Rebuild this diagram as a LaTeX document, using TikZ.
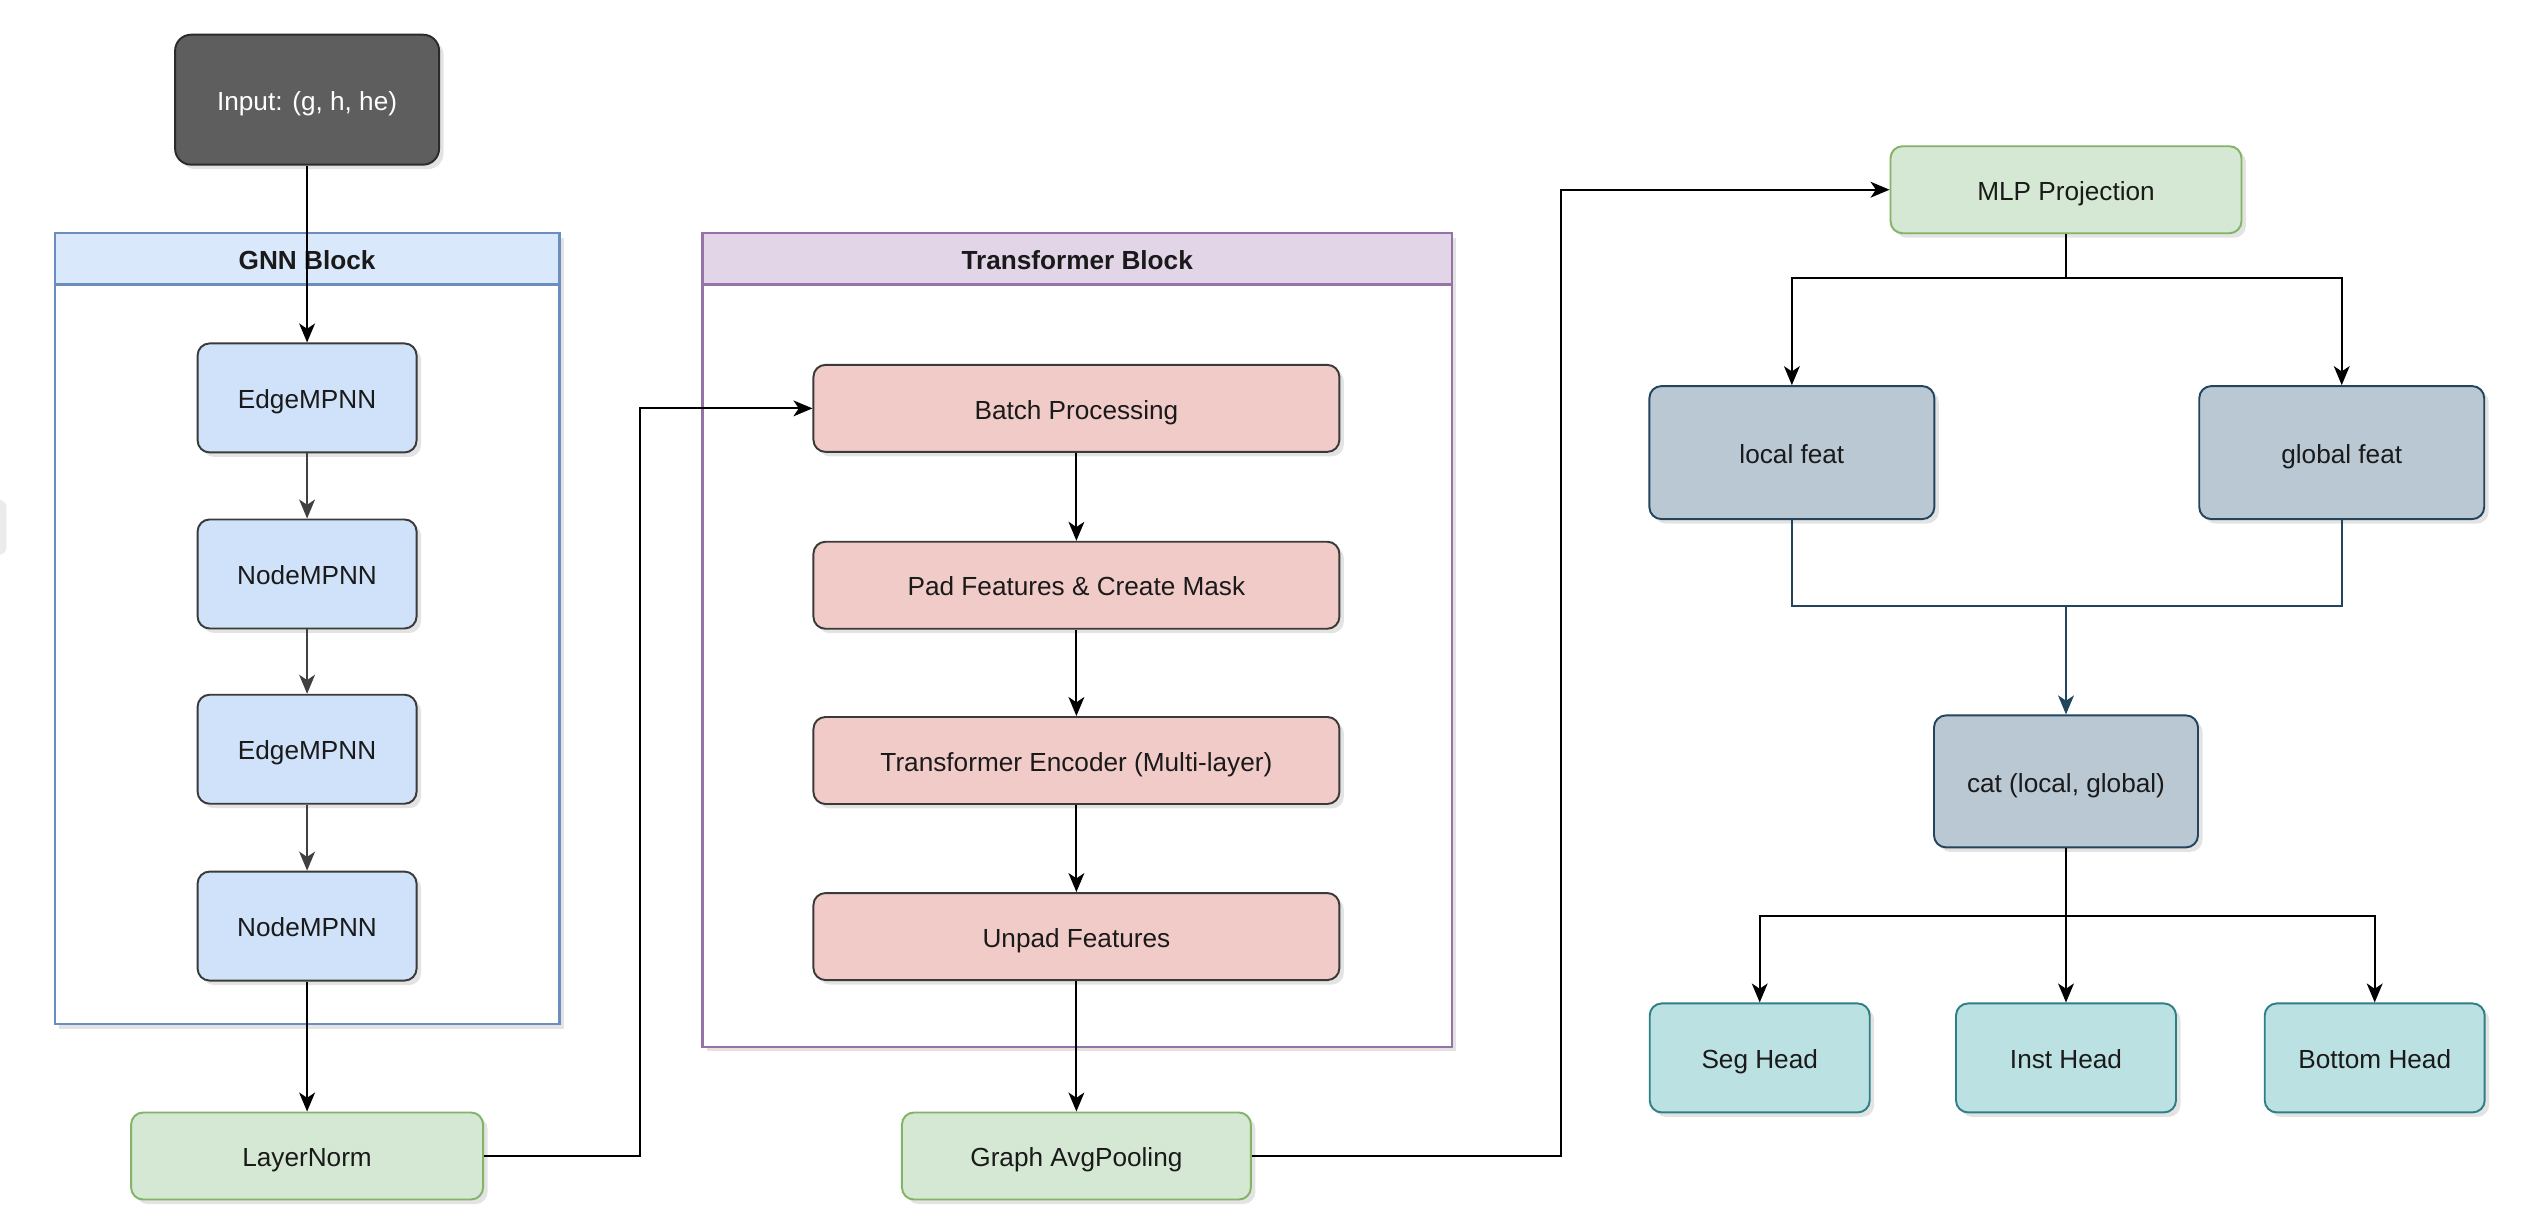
\documentclass[tikz,border=0pt]{standalone}
\usepackage{fontspec}
\setmainfont{Liberation Sans}
\usetikzlibrary{arrows.meta,shadows}

\definecolor{inputfill}{HTML}{5E5E5E}
\definecolor{inputline}{HTML}{2B2B2B}
\definecolor{gnnhead}{HTML}{DAE8FC}
\definecolor{gnnline}{HTML}{6C8EBF}
\definecolor{mpnnfill}{HTML}{D0E2FA}
\definecolor{trfhead}{HTML}{E1D5E7}
\definecolor{trfline}{HTML}{9673A6}
\definecolor{stepfill}{HTML}{F1CBC8}
\definecolor{boxline}{HTML}{3A3A3A}
\definecolor{normfill}{HTML}{D5E8D4}
\definecolor{normline}{HTML}{82B366}
\definecolor{featfill}{HTML}{BAC8D3}
\definecolor{featline}{HTML}{23445D}
\definecolor{headfill}{HTML}{BCE1E2}
\definecolor{headline}{HTML}{2E8086}
\definecolor{txtdark}{HTML}{1A1A1A}

\begin{document}
\begin{tikzpicture}[x=0.1608mm, y=0.1608mm]
    \tikzstyle{every node}+=[inner sep=0pt, font=\fontsize{7.45}{9}\selectfont, text=txtdark, text height=1.6ex, text depth=0.45ex]
    \tikzstyle{shade}=[drop shadow={shadow xshift=0.45mm, shadow yshift=-0.45mm, opacity=0.18, fill=black!60}]
    \tikzstyle{box}=[draw=boxline, line width=0.55pt, rounded corners=1.2mm, align=center, shade]
    \tikzstyle{mpnn}=[box, fill=mpnnfill, minimum width=21.9mm, minimum height=10.9mm]
    \tikzstyle{stepbox}=[box, fill=stepfill, minimum width=52.6mm, minimum height=8.7mm]
    \tikzstyle{normbox}=[box, draw=normline, fill=normfill, minimum width=35.1mm, minimum height=8.7mm]
    \tikzstyle{featbox}=[box, draw=featline, fill=featfill, minimum height=13.3mm]
    \tikzstyle{headbox}=[box, draw=headline, fill=headfill, minimum width=22mm, minimum height=10.9mm]
    \tikzstyle{arr}=[black, line width=0.6pt, -{Stealth[length=5.4pt, width=4.5pt, inset=1.5pt]}]
    \tikzstyle{garr}=[arr, black!75]
    \tikzstyle{farr}=[arr, featline]
    \useasboundingbox (0,0) rectangle (1568,-766);
    \fill [white] (0,0) rectangle (1568,-766);
    \fill [black!8, rounded corners=2pt] (-10,-311) rectangle (4,-345);
    % GNN block
    \filldraw [draw=gnnline, fill=white, line width=0.65pt, shade] (34,-145) rectangle (348,-637);
    \filldraw [draw=gnnline, fill=gnnhead, line width=0.65pt] (34,-145) rectangle (348,-177);
    \node (gnntitle) at (191,-161) {\bfseries GNN Block};
    % Transformer block
    \filldraw [draw=trfline, fill=white, line width=0.65pt, shade] (437,-145) rectangle (903,-651);
    \filldraw [draw=trfline, fill=trfhead, line width=0.65pt] (437,-145) rectangle (903,-177);
    \node (trftitle) at (670,-161) {\bfseries Transformer Block};
    \node [box, draw=inputline, fill=inputfill, text=white, minimum width=26.4mm, minimum height=13mm, rounded corners=1.6mm] (input) at (191,-62) {Input: (g, h, he)};
    \node [mpnn] (edge1) at (191,-247.5) {EdgeMPNN};
    \node [mpnn] (node1) at (191,-357) {NodeMPNN};
    \node [mpnn] (edge2) at (191,-466) {EdgeMPNN};
    \node [mpnn] (node2) at (191,-576) {NodeMPNN};
    \node [normbox, minimum width=35.2mm] (norm) at (191,-719) {LayerNorm};
    \node [stepbox] (batch) at (669.5,-254) {Batch Processing};
    \node [stepbox] (pad) at (669.5,-364) {Pad Features \& Create Mask};
    \node [stepbox] (encoder) at (669.5,-473) {Transformer Encoder (Multi-layer)};
    \node [stepbox] (unpad) at (669.5,-582.5) {Unpad Features};
    \node [normbox, minimum width=34.9mm] (pool) at (669.5,-719) {Graph AvgPooling};
    \node [normbox] (mlp) at (1285,-118) {MLP Projection};
    \node [featbox, minimum width=28.5mm] (local) at (1114.5,-281.5) {local feat};
    \node [featbox, minimum width=28.5mm] (global) at (1456.5,-281.5) {global feat};
    \node [featbox, minimum width=26.4mm, minimum height=13.2mm] (cat) at (1285,-486) {cat (local, global)};
    \node [headbox] (seg) at (1094.5,-658) {Seg Head};
    \node [headbox] (inst) at (1285,-658) {Inst Head};
    \node [headbox] (bottom) at (1477,-658) {Bottom Head};
    \coordinate (join) at (1285,-377);
    % connectors
    \draw [arr] (input) -- (edge1);
    \draw [garr] (edge1) -- (node1);
    \draw [garr] (node1) -- (edge2);
    \draw [garr] (edge2) -- (node2);
    \draw [arr] (node2) -- (norm);
    \draw [arr] (norm.east) -- ++(97,0) |- (batch.west);
    \draw [arr] (batch) -- (pad);
    \draw [arr] (pad) -- (encoder);
    \draw [arr] (encoder) -- (unpad);
    \draw [arr] (unpad) -- (pool);
    \draw [arr] (pool.east) -- ++(192,0) |- (mlp.west);
    \draw [arr] (mlp.south) -- ++(0,-27) -| (local.north);
    \draw [arr] (mlp.south) -- ++(0,-27) -| (global.north);
    \draw [featline, line width=0.6pt] (local.south) |- (join) -| (global.south);
    \draw [farr] (join) -- (cat.north);
    \draw [arr] (cat.south) -- ++(0,-42) -| (seg.north);
    \draw [arr] (cat) -- (inst);
    \draw [arr] (cat.south) -- ++(0,-42) -| (bottom.north);
\end{tikzpicture}
\end{document}
